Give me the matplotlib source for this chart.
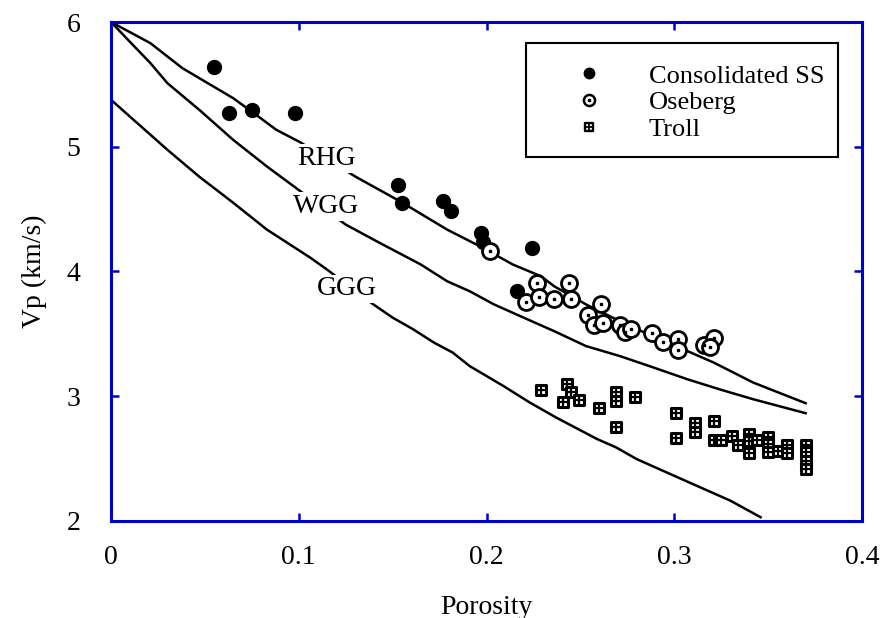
import matplotlib
matplotlib.use('Agg')
import matplotlib.pyplot as plt
from matplotlib.lines import Line2D
from matplotlib.markers import MarkerStyle
from matplotlib.patches import Rectangle

plt.rcParams['font.family'] = ['Liberation Serif', 'DejaVu Serif']
plt.rcParams['font.size'] = 20

# --- model curves ---
rhg_phi = [0.0, 0.021, 0.038, 0.047, 0.065, 0.076, 0.088, 0.101, 0.130, 0.154, 0.179,
           0.197, 0.214, 0.229, 0.236, 0.253, 0.271, 0.292, 0.307, 0.321, 0.342, 0.370]
rhg_vp = [6.0, 5.83, 5.63, 5.55, 5.39, 5.27, 5.136, 5.034, 4.762, 4.562, 4.336,
          4.198, 4.056, 3.962, 3.882, 3.736, 3.602, 3.456, 3.362, 3.27, 3.11, 2.944]

wgg_phi = [0.0, 0.010, 0.021, 0.030, 0.047, 0.065, 0.083, 0.101, 0.125, 0.143, 0.165,
           0.179, 0.191, 0.204, 0.218, 0.236, 0.253, 0.271, 0.289, 0.307, 0.324, 0.342, 0.370]
wgg_vp = [6.0, 5.842, 5.67, 5.51, 5.296, 5.056, 4.842, 4.642, 4.376, 4.23, 4.056,
          3.922, 3.842, 3.736, 3.642, 3.522, 3.402, 3.322, 3.23, 3.136, 3.056, 2.976, 2.864]

ggg_phi = [0.0, 0.012, 0.030, 0.047, 0.065, 0.083, 0.106, 0.115, 0.139, 0.150, 0.161,
           0.172, 0.182, 0.191, 0.209, 0.223, 0.237, 0.259, 0.269, 0.280, 0.300, 0.330, 0.346]
ggg_vp = [5.376, 5.216, 4.976, 4.76, 4.552, 4.336, 4.112, 4.016, 3.744, 3.63, 3.536,
          3.43, 3.35, 3.242, 3.082, 2.95, 2.83, 2.656, 2.59, 2.496, 2.362, 2.162, 2.03]

# --- measured data ---
cons_phi = [0.055, 0.063, 0.075, 0.098, 0.153, 0.155, 0.177, 0.181, 0.197, 0.198, 0.224, 0.216]
cons_vp = [5.64, 5.272, 5.296, 5.272, 4.696, 4.552, 4.568, 4.488, 4.312, 4.24, 4.192, 3.84]

ose_phi = [0.202, 0.227, 0.244, 0.221, 0.228, 0.236, 0.245, 0.261, 0.254, 0.257, 0.262,
           0.271, 0.274, 0.277, 0.288, 0.294, 0.302, 0.302, 0.316, 0.321, 0.319]
ose_vp = [4.162, 3.91, 3.91, 3.758, 3.798, 3.782, 3.782, 3.736, 3.65, 3.568, 3.59,
          3.568, 3.518, 3.542, 3.504, 3.434, 3.462, 3.368, 3.414, 3.47, 3.394]

troll_phi = [0.229, 0.243, 0.245, 0.241, 0.249, 0.260, 0.269, 0.269, 0.279, 0.269,
             0.301, 0.301, 0.311, 0.311, 0.321, 0.321, 0.325, 0.331, 0.334, 0.340,
             0.340, 0.340, 0.344, 0.350, 0.350, 0.350, 0.355, 0.360, 0.360,
             0.370, 0.370, 0.370, 0.370]
troll_vp = [3.048, 3.102, 3.032, 2.95, 2.966, 2.902, 3.034, 2.958, 2.99, 2.754,
            2.862, 2.666, 2.784, 2.716, 2.802, 2.646, 2.646, 2.682, 2.606, 2.698,
            2.642, 2.546, 2.648, 2.674, 2.618, 2.552, 2.558, 2.61, 2.546,
            2.608, 2.55, 2.482, 2.416]

blue = '#0000cc'

fig = plt.figure(figsize=(8.84, 6.18), dpi=100)
ax = fig.add_axes([0.1256, 0.157, 0.8495, 0.8074])

for phi, vp in [(rhg_phi, rhg_vp), (wgg_phi, wgg_vp), (ggg_phi, ggg_vp)]:
    ax.plot(phi, vp, color='black', lw=1.8, zorder=2)

lbl_box = dict(facecolor='white', edgecolor='none', pad=1.5)
ax.text(0.115, 4.905, 'RHG', ha='center', va='center', bbox=lbl_box, zorder=3)
ax.text(0.1145, 4.52, 'WGG', ha='center', va='center', bbox=lbl_box, zorder=3)
ax.text(0.1257, 3.86, 'GGG', ha='center', va='center', bbox=lbl_box, zorder=3)

sq = MarkerStyle('s', joinstyle='round')

ax.plot(cons_phi, cons_vp, 'o', color='black', ms=10, zorder=4)
ax.plot(ose_phi, ose_vp, 'o', mfc='white', mec='black', ms=11.5, mew=2.0, zorder=5)
ax.plot(ose_phi, ose_vp, 's', color='black', ms=1.8, zorder=6)
ax.plot(troll_phi, troll_vp, ls='none', marker=sq, mfc='white', mec='black', ms=7.5, mew=2.2, zorder=4)
ax.plot(troll_phi, troll_vp, '+', color='black', ms=7.5, mew=1.6, zorder=4)

# legend: frame drawn separately so its padding can be uneven
ax.add_patch(Rectangle((0.5526, 0.7295), 0.4154, 0.2285, transform=ax.transAxes,
                       facecolor='white', edgecolor='black', lw=1.5, zorder=7))
h_cons = Line2D([], [], ls='none', marker='o', color='black', ms=7.5)
h_ose = (Line2D([], [], ls='none', marker='o', mfc='white', mec='black', ms=8, mew=1.8),
         Line2D([], [], ls='none', marker='s', color='black', ms=1.6))
h_troll = (Line2D([], [], ls='none', marker=sq, mfc='white', mec='black', ms=5.5, mew=1.7),
           Line2D([], [], ls='none', marker='+', color='black', ms=5.5, mew=1.3))
leg = ax.legend([h_cons, h_ose, h_troll], ['Consolidated SS', 'Oseberg', 'Troll'],
                loc='upper left', bbox_to_anchor=(0.5526, 0.958), borderaxespad=0,
                frameon=False,
                handlelength=3.2, handletextpad=0.66, borderpad=0.8, labelspacing=0.12,
                fontsize=19)
leg.set_zorder(8)

ax.set_xlim(0, 0.4)
ax.set_ylim(2, 6)
ax.set_xticks([0, 0.1, 0.2, 0.3, 0.4])
ax.set_xticklabels(['0', '0.1', '0.2', '0.3', '0.4'])
ax.set_yticks([2, 3, 4, 5, 6])
ax.tick_params(direction='in', top=True, right=True, length=6, width=1.8, color=blue)
ax.tick_params(axis='x', pad=17)
ax.tick_params(axis='y', pad=22)
for s in ax.spines.values():
    s.set_color(blue)
    s.set_linewidth(2.2)

ax.set_xlabel('Porosity', labelpad=18)
ax.set_ylabel('Vp (km/s)', labelpad=14)

fig.savefig('out.png', dpi=100)
